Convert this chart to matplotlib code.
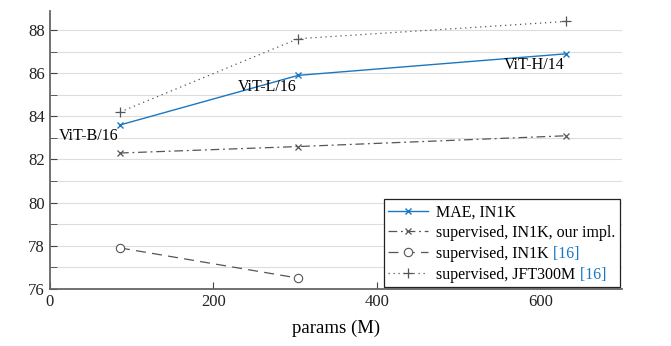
import matplotlib.pyplot as plt
import numpy as np

plt.rcParams['font.family'] = ['Liberation Serif', 'DejaVu Serif']

# params (M) and accuracy values
params = [86, 304, 632]
mae_in1k = [83.6, 85.9, 86.9]
sup_ours = [82.3, 82.6, 83.1]
params_vit = [86, 304]
sup_vit = [77.9, 76.5]
sup_jft = [84.2, 87.6, 88.4]
model_names = ["ViT-B/16", "ViT-L/16", "ViT-H/14"]

blue = '#1a78c2'
gray = '#555555'

fig = plt.figure(figsize=(6.71, 3.46), dpi=100)
ax = fig.add_axes([0.074, 0.165, 0.853, 0.803])

ax.plot(params, mae_in1k, color=blue, lw=1.0, marker='x', ms=5, mew=1.0, label="MAE, IN1K")
ax.plot(params, sup_ours, color=gray, lw=0.9, ls=(0, (7, 3, 1.5, 3)), marker='x', ms=5, mew=0.9,
        label="supervised, IN1K, our impl.")
ax.plot(params_vit, sup_vit, color=gray, lw=0.9, ls=(0, (8, 5)), marker='o', ms=6, mfc='white',
        mew=0.8, label="supervised, IN1K")
ax.plot(params, sup_jft, color=gray, lw=0.9, ls=(0, (1, 3)), marker='+', ms=7, mew=0.9,
        label="supervised, JFT300M")

# model names below-left of MAE points
for x, y, name in zip(params, mae_in1k, model_names):
    ax.annotate(name, xy=(x, y), xytext=(-1, -2.5), textcoords='offset points',
                ha='right', va='top', fontsize=11.5)

ax.set_xlim(0, 700)
ax.set_ylim(76, 88.88)
ax.set_xticks([0, 200, 400, 600])
ax.set_yticks(np.arange(76, 89, 2))
ax.set_yticks(np.arange(77, 89, 2), minor=True)
ax.grid(True, axis='y', which='both', color='#dddddd', lw=0.8)
ax.set_axisbelow(True)

for side in ['top', 'right']:
    ax.spines[side].set_visible(False)
for side in ['left', 'bottom']:
    ax.spines[side].set_color('#666666')
    ax.spines[side].set_linewidth(1.3)

ax.tick_params(axis='both', which='both', direction='in', colors='#444444', labelcolor='#222222',
               labelsize=12)
ax.tick_params(axis='both', which='both', length=5)
ax.set_xlabel("params (M)", fontsize=13.5, labelpad=7)

leg = ax.legend(loc='lower right', fontsize=11.5, frameon=True, fancybox=False, framealpha=1,
                edgecolor='#222222', handlelength=2.5, borderpad=0.3, labelspacing=0.3,
                handletextpad=0.5, bbox_to_anchor=(1.0, 0.0), borderaxespad=0.1)
leg.get_frame().set_linewidth(0.9)

# citation markers in blue after the two legend entries
fig.canvas.draw()
renderer = fig.canvas.get_renderer()
inv = fig.transFigure.inverted()
for t in leg.get_texts()[2:]:
    bb = t.get_window_extent(renderer)
    x0, y0 = inv.transform((bb.x1, bb.y0))
    fig.text(x0, y0, " [16]", fontsize=11.5, color=blue, ha='left', va='bottom')

fig.savefig("out.png", dpi=100)
